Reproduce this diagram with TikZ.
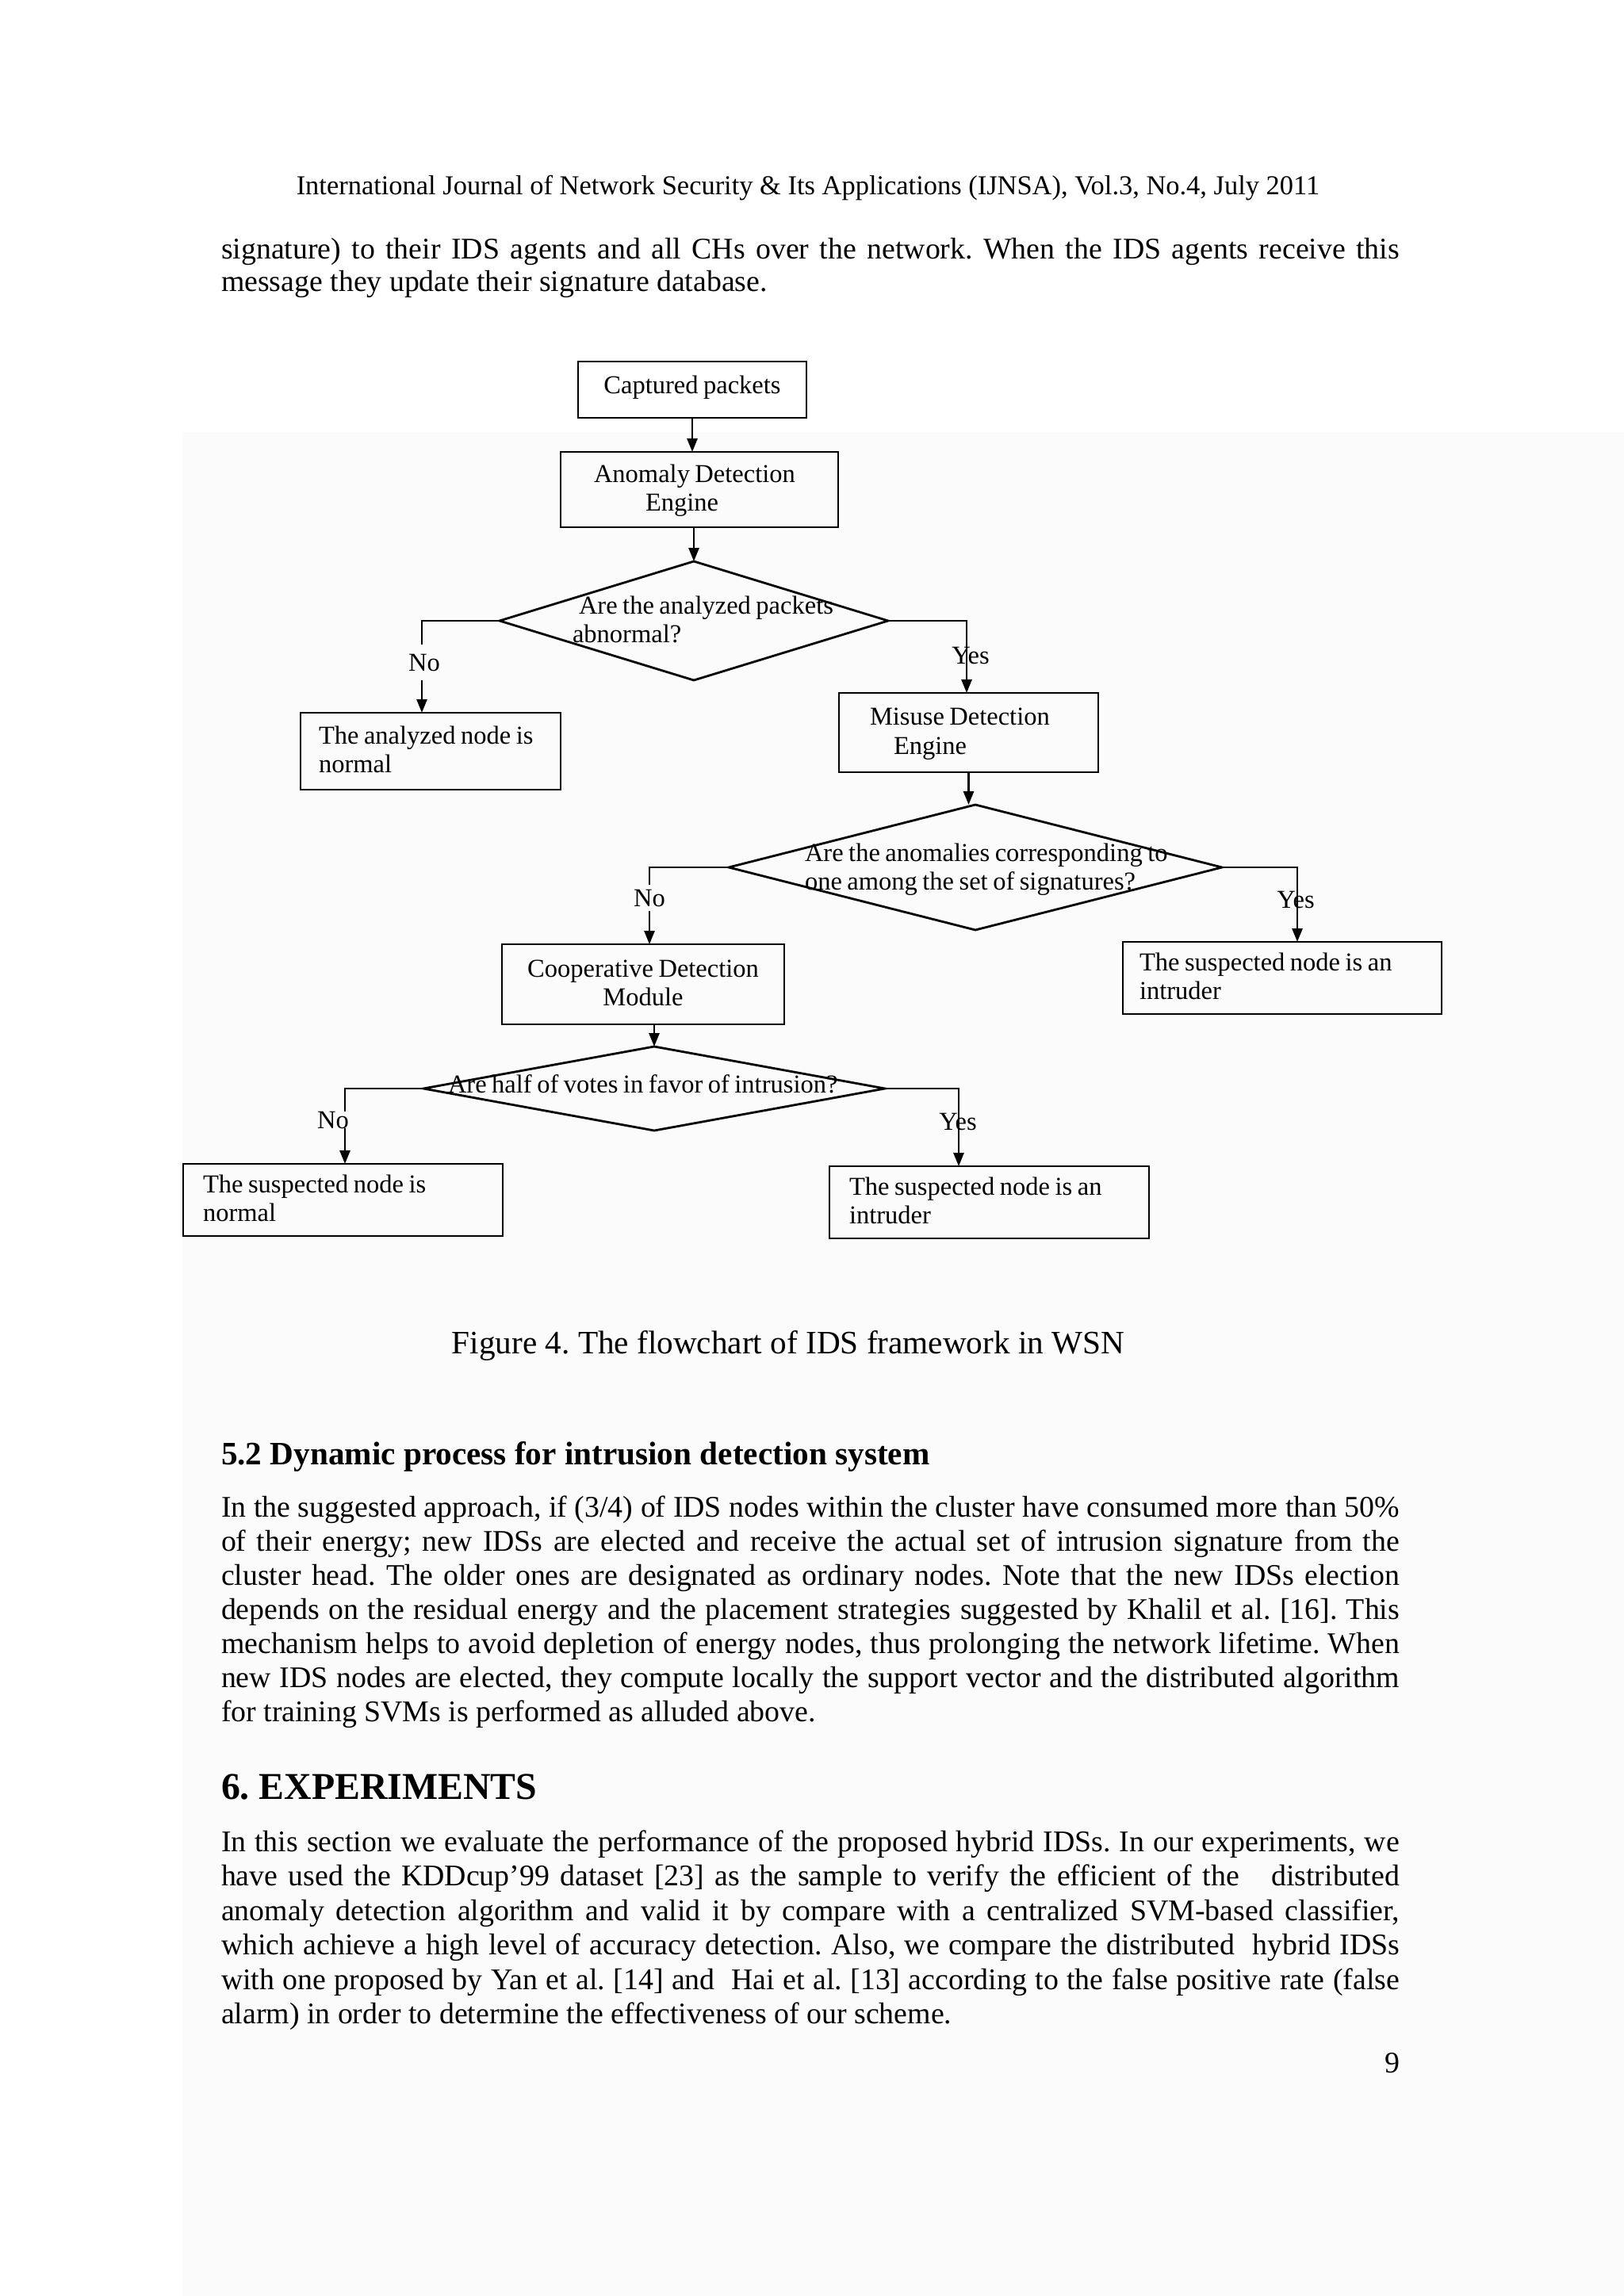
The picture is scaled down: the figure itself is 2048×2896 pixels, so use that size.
\documentclass[tikz,border=0pt]{standalone}
\usepackage{fontspec}
\setmainfont{Liberation Serif}
\usetikzlibrary{shapes.geometric,arrows.meta}
\definecolor{pagegrey}{RGB}{251,251,252}
\newlength{\fcspace}
\begin{document}
\frenchspacing
\begin{tikzpicture}[x=0.1mm,y=-0.1mm,
  every node/.style={inner sep=0pt,outer sep=0pt},
  line/.style={line width=0.28mm,black},
  arr/.style={line,-{Triangle[length=1.7mm,width=1.3mm]}},
  fc/.style={font=\fontsize{9.25pt}{10.5pt}\selectfont,
    execute at begin node={\spaceskip=0.2em plus 0.1em minus 0.05em\relax}},
  box/.style={fc,draw,line width=0.28mm,rectangle,align=left,text height=2.5mm,text depth=4.4mm},
  boxc/.style={fc,draw,line width=0.28mm,rectangle,align=center,text height=2.5mm,text depth=4.4mm},
  boxone/.style={fc,draw,line width=0.28mm,rectangle,align=center,text height=2.5mm,text depth=1.4mm},
  dec/.style={draw,line width=0.28mm,diamond,inner sep=0pt},
  dtext/.style={fc,anchor=base west,align=left},
  lab/.style={fc,anchor=base},
  nolab/.style={fc,anchor=base,fill=pagegrey},
  body/.style={font=\fontsize{10.76pt}{12.4pt}\selectfont,anchor=base west},
]
\useasboundingbox (0,0) rectangle (2048,2896);
\fill[white] (0,0) rectangle (2048,2896);
\fill[pagegrey] (230,545) rectangle (2048,2896);

% page text
\node[font=\fontsize{9.8pt}{11pt}\selectfont,anchor=base] (hdr) at (1019,246)
  {International Journal of Network Security \& Its Applications (IJNSA), Vol.3, No.4, July 2011};
\node[body] (p1a) at (279,327) {\makebox[148.6mm][s]{signature) to their IDS agents and all CHs over the network. When the IDS agents receive this}};
\node[body] (p1b) at (279,368) {message they update their signature database.};

% flowchart boxes
\node[boxone,minimum width=28.8mm,minimum height=7.1mm] (cap) at (873,491.5) {Captured packets};
\node[box,minimum width=35mm,minimum height=9.5mm,text width=26.6mm,inner xsep=4.2mm] (ane) at (882,617.5)
  {\mbox{Anomaly Detection}\\\hspace*{6.5mm}Engine};
\node[dec,minimum width=49mm,minimum height=15mm] (d1) at (875,783) {};
\node[dtext,text width=40mm] (d1t) at (722,774) {\mbox{\hspace*{0.8mm}Are the analyzed packets}\\abnormal?};
\node[box,minimum width=32.8mm,minimum height=9.7mm,text width=28.2mm,inner xsep=2.3mm] (ana) at (543,947.5)
  {\mbox{The analyzed node is}\\normal};
\node[box,minimum width=32.7mm,minimum height=10mm,text width=24.9mm,inner xsep=3.9mm] (mis) at (1221.5,924)
  {\mbox{Misuse Detection}\\\hspace*{3mm}Engine};
\node[dec,minimum width=62.2mm,minimum height=15.8mm] (d2) at (1230,1094) {};
\node[dtext,text width=52mm] (d2t) at (1015,1086) {\mbox{Are the anomalies corresponding to}\\\mbox{one among the set of signatures?}};
\node[boxc,minimum width=35.6mm,minimum height=10.1mm,text width=31mm] (coop) at (811,1241.5)
  {\mbox{Cooperative Detection}\\Module};
\node[box,minimum width=40.2mm,minimum height=9.1mm,text width=36mm,inner xsep=2.1mm] (int1) at (1617,1233.5)
  {\mbox{The suspected node is an}\\intruder};
\node[dec,minimum width=58.2mm,minimum height=10.6mm] (d3) at (825,1373) {};
\node[dtext] (d3t) at (565,1378) {Are half of votes in favor of intrusion?};
\node[box,minimum width=40.3mm,minimum height=9.1mm,text width=35.3mm,inner xsep=2.5mm] (nor) at (432.5,1513.5)
  {\mbox{The suspected node is}\\normal};
\node[box,minimum width=40.3mm,minimum height=9.1mm,text width=35.3mm,inner xsep=2.5mm] (int2) at (1247.5,1516.5)
  {\mbox{The suspected node is an}\\intruder};

% branch corners
\coordinate (c1n) at (532,783);
\coordinate (c1y) at (1219,783);
\coordinate (c2n) at (819,1094);
\coordinate (c2y) at (1636,1094);
\coordinate (c3n) at (435,1373);
\coordinate (c3y) at (1209,1373);

% connectors
\draw[arr] (cap.south) -- (cap.south |- ane.north);
\draw[arr] (d1.north |- ane.south) -- (d1.north);
\draw[arr] (d1.west) -- (c1n) -- (c1n |- ana.north);
\draw[arr] (d1.east) -- (c1y) -- (c1y |- mis.north);
\draw[arr] (mis.south) -- (mis.south |- d2.north);
\draw[arr] (d2.west) -- (c2n) -- (c2n |- coop.north);
\draw[arr] (d2.east) -- (c2y) -- (c2y |- int1.north);
\draw[arr] (d3.north |- coop.south) -- (d3.north);
\draw[arr] (d3.west) -- (c3n) -- (c3n |- nor.north);
\draw[arr] (d3.east) -- (c3y) -- (c3y |- int2.north);

% branch labels
\node[nolab,inner ysep=1.2mm,inner xsep=0.3mm] (no1) at (535,846) {No};
\node[lab] (yes1) at (1224,837) {Yes};
\node[nolab,inner ysep=0.6mm,inner xsep=0.3mm] (no2) at (819,1143) {No};
\node[lab] (yes2) at (1634,1145) {Yes};
\node[nolab] (no3) at (420,1423) {No};
\node[lab] (yes3) at (1208,1425) {Yes};

% caption and following text
\node[font=\fontsize{11.73pt}{13pt}\selectfont,anchor=base] (fig) at (994,1707)
  {Figure 4. The flowchart of IDS framework in WSN};
\node[font=\bfseries\fontsize{11.73pt}{13pt}\selectfont,anchor=base west] (h52) at (279,1847)
  {5.2 Dynamic process for intrusion detection system};
\node[body] (p2a) at (279,1913) {\makebox[148.6mm][s]{In the suggested approach, if (3/4) of IDS nodes within the cluster have consumed more than 50\%}};
\node[body] (p2b) at (279,1956) {\makebox[148.6mm][s]{of their energy; new IDSs are elected and receive the actual set of intrusion signature from the}};
\node[body] (p2c) at (279,1999) {\makebox[148.6mm][s]{cluster head. The older ones are designated as ordinary nodes. Note that the new IDSs election}};
\node[body] (p2d) at (279,2042) {\makebox[148.6mm][s]{depends on the residual energy and the placement strategies suggested by Khalil et al. [16]. This}};
\node[body] (p2e) at (279,2085) {\makebox[148.6mm][s]{mechanism helps to avoid depletion of energy nodes, thus prolonging the network lifetime. When}};
\node[body] (p2f) at (279,2128) {\makebox[148.6mm][s]{new IDS nodes are elected, they compute locally the support vector and the distributed algorithm}};
\node[body] (p2g) at (279,2171) {for training SVMs is performed as alluded above.};

\node[font=\bfseries\fontsize{13.6pt}{15pt}\selectfont,anchor=base west] (h6) at (279,2269) {6. EXPERIMENTS};
\node[body] (p3a) at (279,2335) {\makebox[148.6mm][s]{In this section we evaluate the performance of the proposed hybrid IDSs. In our experiments, we}};
\node[body] (p3b) at (279,2378) {\makebox[148.6mm][s]{have used the KDDcup’99 dataset [23] as the sample to verify the efficient of the\ \ \ distributed}};
\node[body] (p3c) at (279,2422) {\makebox[148.6mm][s]{anomaly detection algorithm and valid it by compare with a centralized SVM-based classifier,}};
\node[body] (p3d) at (279,2465) {\makebox[148.6mm][s]{which achieve a high level of accuracy detection. Also, we compare the distributed\ \ hybrid IDSs}};
\node[body] (p3e) at (279,2509) {\makebox[148.6mm][s]{with one proposed by Yan et al. [14] and\ \ Hai et al. [13] according to the false positive rate (false}};
\node[body] (p3f) at (279,2552) {alarm) in order to determine the effectiveness of our scheme.};
\node[body,anchor=base east] (pg) at (1765,2614) {9};
\end{tikzpicture}
\end{document}
